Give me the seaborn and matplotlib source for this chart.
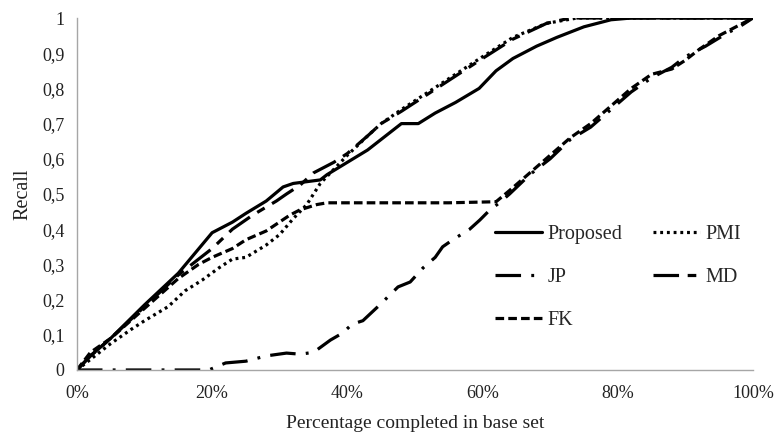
import matplotlib
matplotlib.use("Agg")
import matplotlib.pyplot as plt
import matplotlib.ticker as mticker
import seaborn as sns

# (x in %, y = recall)
proposed_x = [0, 2, 5, 10, 15, 20, 23, 25, 28, 30.5, 32, 36, 37, 40, 43, 46, 48, 50.5, 53, 56, 59.5, 62, 64.5, 68, 71, 75, 79, 82, 100]
proposed_y = [0, 0.04, 0.09, 0.185, 0.275, 0.39, 0.42, 0.445, 0.48, 0.52, 0.53, 0.54, 0.555, 0.59, 0.625, 0.67, 0.70, 0.70, 0.73, 0.76, 0.80, 0.85, 0.885, 0.92, 0.945, 0.975, 0.995, 1.0, 1.0]

pmi_x = [0, 2, 5, 8, 10, 13.5, 16, 18.5, 21, 23, 25, 28, 30, 32, 34, 36, 38, 40, 43, 45, 48, 52, 56, 60, 64.5, 69.5, 74, 100]
pmi_y = [0, 0.03, 0.075, 0.115, 0.14, 0.18, 0.225, 0.255, 0.29, 0.315, 0.32, 0.355, 0.385, 0.43, 0.47, 0.53, 0.57, 0.61, 0.665, 0.70, 0.74, 0.79, 0.84, 0.89, 0.945, 0.985, 1.0, 1.0]

jp_x = [0, 19.5, 22, 25, 28, 31, 33, 35, 37.5, 39.3, 40.7, 42.3, 44.8, 47.5, 49.3, 51.2, 53, 54.1, 55.6, 58.1, 59.6, 61.1, 62.5, 64, 67, 70, 73, 76, 79, 82, 85, 88, 90, 93, 96, 98, 100]
jp_y = [0, 0, 0.02, 0.025, 0.04, 0.048, 0.045, 0.05, 0.085, 0.105, 0.13, 0.14, 0.185, 0.236, 0.25, 0.29, 0.32, 0.35, 0.37, 0.40, 0.426, 0.455, 0.475, 0.50, 0.555, 0.60, 0.655, 0.69, 0.74, 0.79, 0.83, 0.86, 0.89, 0.92, 0.955, 0.975, 1.0]

md_x = [0, 2, 5, 10, 15, 17, 20, 23, 26, 29.5, 31, 33, 35, 38, 40, 43, 45, 48, 52, 56, 60, 64.5, 69.5, 73, 100]
md_y = [0, 0.04, 0.09, 0.18, 0.27, 0.30, 0.345, 0.40, 0.44, 0.48, 0.50, 0.525, 0.56, 0.59, 0.615, 0.665, 0.70, 0.735, 0.785, 0.835, 0.885, 0.94, 0.985, 1.0, 1.0]

fk_x = [0, 2, 5, 10, 15, 18, 20, 23, 25, 28, 31.5, 33, 35.5, 37, 45, 55, 62, 64, 67, 70, 73, 76, 79, 82, 85, 88, 90, 92, 95, 98, 100]
fk_y = [0, 0.05, 0.09, 0.175, 0.26, 0.30, 0.32, 0.345, 0.37, 0.395, 0.44, 0.455, 0.47, 0.475, 0.475, 0.475, 0.478, 0.51, 0.56, 0.61, 0.66, 0.70, 0.75, 0.80, 0.84, 0.855, 0.88, 0.91, 0.95, 0.98, 1.0]

x_ticks = [0, 20, 40, 60, 80, 100]
y_ticks = [0, 0.1, 0.2, 0.3, 0.4, 0.5, 0.6, 0.7, 0.8, 0.9, 1.0]

sns.set_style("white")
plt.rcParams['font.family'] = ['Liberation Serif', 'DejaVu Serif']

fig = plt.figure(figsize=(7.77, 4.34), dpi=100)
ax = fig.add_axes([0.099, 0.1475, 0.87, 0.811])

lw = 2.3
sns.lineplot(x=proposed_x, y=proposed_y, ax=ax, color='black', lw=lw, label='Proposed')
sns.lineplot(x=jp_x, y=jp_y, ax=ax, color='black', lw=lw, label='JP')
sns.lineplot(x=fk_x, y=fk_y, ax=ax, color='black', lw=lw, label='FK')
sns.lineplot(x=pmi_x, y=pmi_y, ax=ax, color='black', lw=lw, label='PMI')
sns.lineplot(x=md_x, y=md_y, ax=ax, color='black', lw=lw, label='MD')

# excel-like dash patterns
styles = [None, (0, (8, 3.2, 0.9, 3.2)), (0, (2.7, 1.3)), (0, (0.9, 1.2)), (0, (8, 2.7, 2.7, 2.7))]
for line, st in zip(ax.get_lines(), styles):
    if st is not None:
        line.set_linestyle(st)

ax.set_xlim(0, 100)
ax.set_ylim(0, 1)
ax.set_xticks(x_ticks)
ax.set_yticks(y_ticks)
ax.xaxis.set_major_formatter(mticker.FuncFormatter(lambda v, p: f"{int(v)}%"))
ax.yaxis.set_major_formatter(mticker.FuncFormatter(
    lambda v, p: "0" if v == 0 else ("1" if v == 1 else f"{v:.1f}".replace('.', ','))))

for s in ['top', 'right']:
    ax.spines[s].set_visible(False)
for s in ['left', 'bottom']:
    ax.spines[s].set_color('#a6a6a6')
    ax.spines[s].set_linewidth(1)
ax.tick_params(axis='both', which='major', direction='out', length=5, width=1,
               color='#a6a6a6', labelsize=13, labelcolor='#222222', pad=6)
ax.tick_params(axis='y', pad=4)

ax.set_xlabel('Percentage completed in base set', fontsize=14, color='#222222', labelpad=9)
ax.set_ylabel('Recall', fontsize=14.5, color='#222222', labelpad=7)

ax.legend(loc='upper left', bbox_to_anchor=(0.607, 0.435), ncol=2, frameon=False,
          fontsize=14.5, handlelength=2.33, handletextpad=0.27, columnspacing=1.53,
          labelspacing=1.18, borderaxespad=0)

fig.savefig('out.png', dpi=100)
